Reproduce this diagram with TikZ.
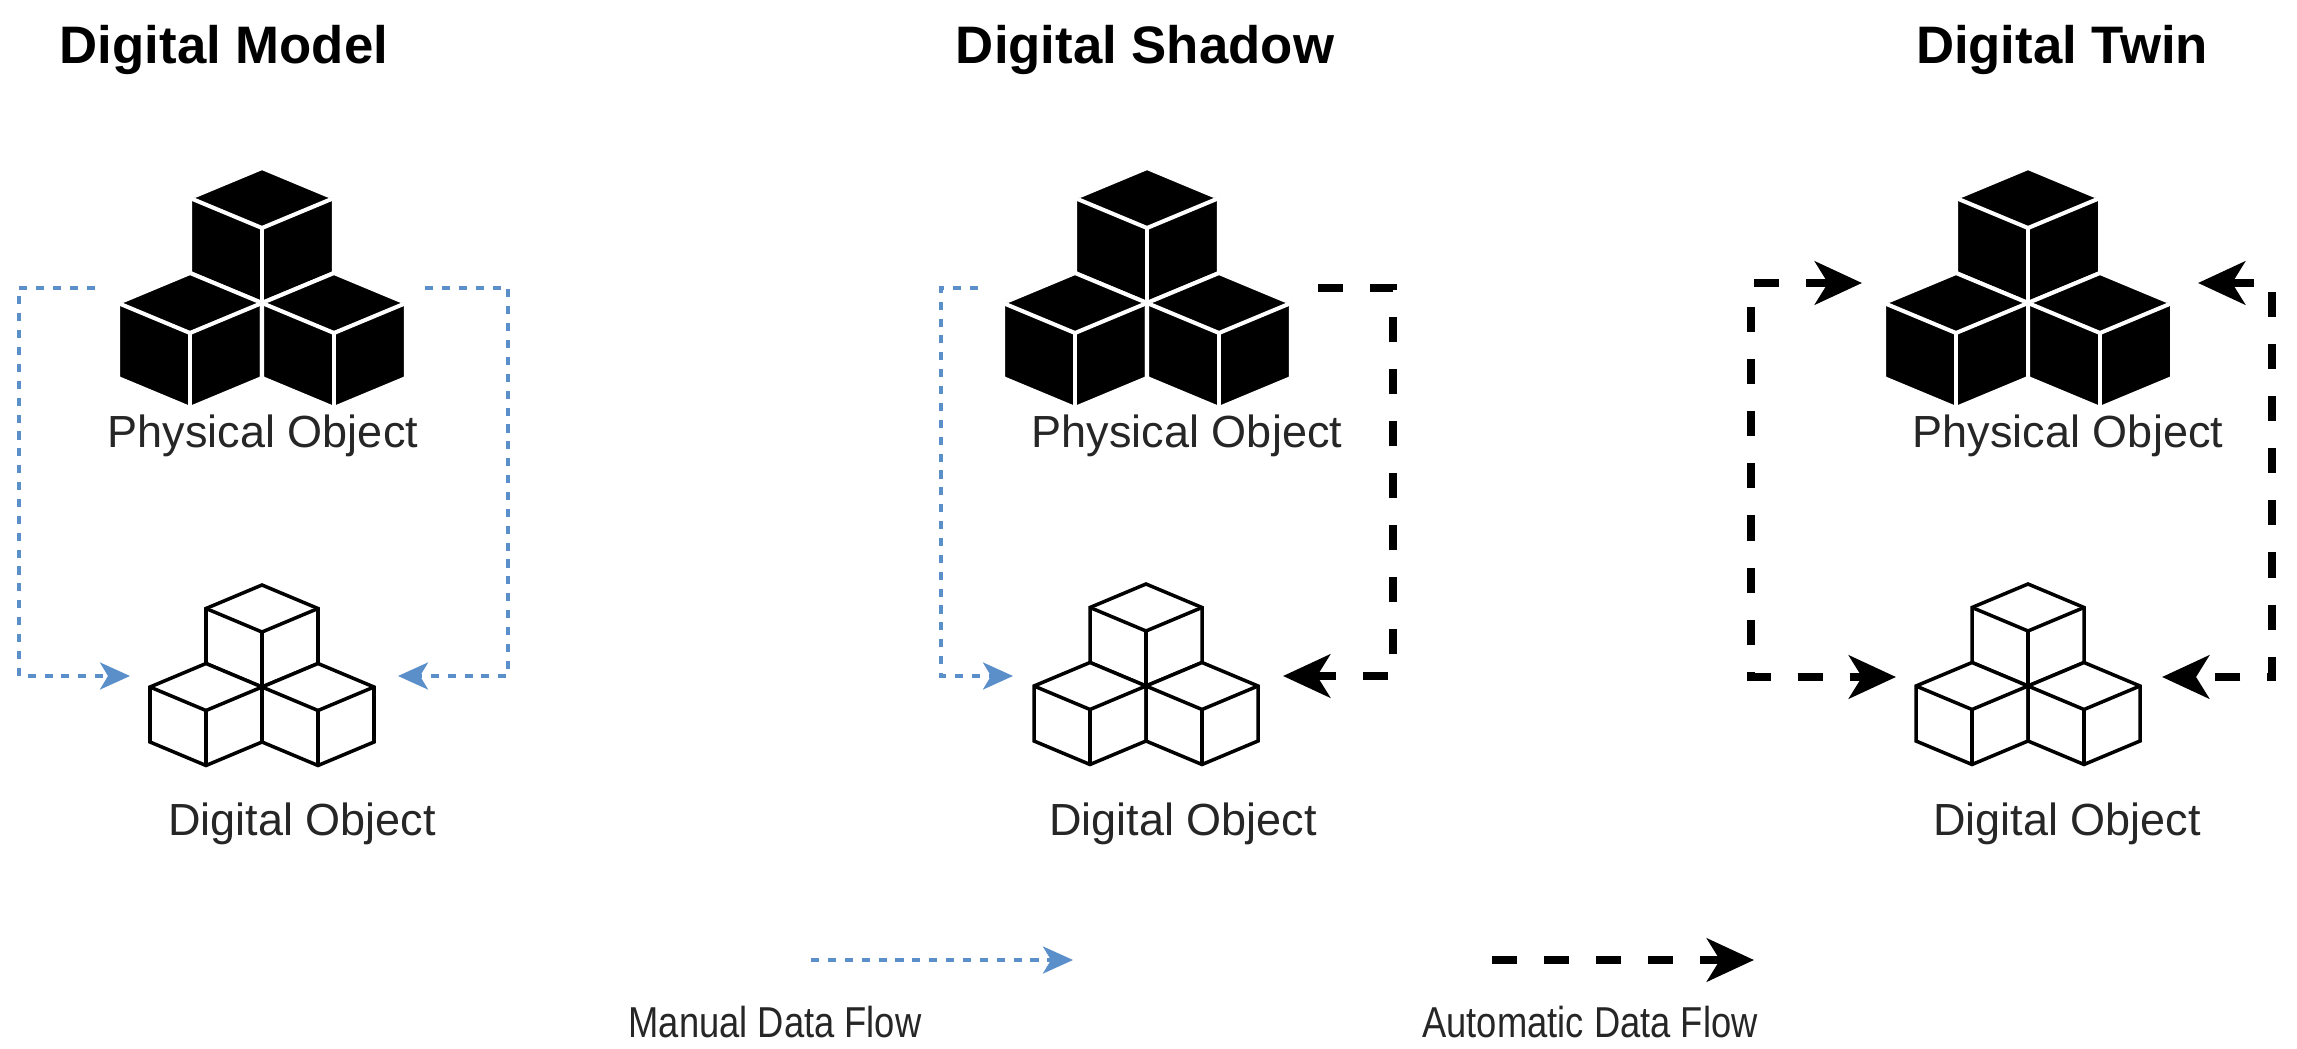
\documentclass[tikz,border=0pt]{standalone}
\usepackage{fontspec}
\setmainfont{Liberation Sans}
\newfontfamily\narrowfont{Liberation Sans}[FakeStretch=0.84]
\usetikzlibrary{arrows.meta}
\definecolor{manblue}{HTML}{5B8FC9}
\tikzset{
  x=0.01cm, y=-0.01cm,
  lbl/.style={font=\fontsize{12.8}{15}\selectfont, text=black!85, inner sep=0pt},
  leg/.style={font=\narrowfont\fontsize{12.3}{14}\selectfont, text=black!85, inner sep=0pt},
  ttl/.style={font=\fontsize{15}{18}\selectfont\bfseries, inner sep=0pt},
  manual/.style={draw=manblue, line width=1pt, dash pattern=on 2.3pt off 2.5pt,
     -{Stealth[length=0.3cm,width=0.27cm,inset=0.08cm]}},
  auto/.style={draw=black, line width=2.3pt, dash pattern=on 0.25cm off 0.27cm,
     -{Stealth[length=0.47cm,width=0.43cm,inset=0.13cm]}},
  autoboth/.style={auto, {Stealth[length=0.47cm,width=0.43cm,inset=0.13cm]}-{Stealth[length=0.47cm,width=0.43cm,inset=0.13cm]}},
  blackcl/.style={fill=black, draw=white, line width=1.15pt, line join=miter},
  whitecl/.style={fill=white, draw=black, line width=1pt, line join=miter},
}
% #1 style, #2 x, #3 y, #4 a, #5 b, #6 h
\newcommand\mycube[6]{%
  \filldraw[#1] (#2,#3) -- ++(#4,#5) -- ++(0,#6) -- ++(-#4,#5) -- ++(-#4,-#5) -- ++(0,-#6) -- cycle;
  \draw[#1] (#2,#3) ++(-#4,#5) -- ++(#4,#5) -- ++(#4,-#5);
  \draw[#1] (#2,#3) ++(0,#5) ++(0,#5) -- ++(0,#6);
}
\newcommand\mycluster[6]{%
  \mycube{#1}{#2}{#3}{#4}{#5}{#6}
  \mycube{#1}{#2-#4}{#3+#5+#6}{#4}{#5}{#6}
  \mycube{#1}{#2+#4}{#3+#5+#6}{#4}{#5}{#6}
}
\begin{document}
\begin{tikzpicture}
\useasboundingbox (0,0) rectangle (2297,1049);
% titles
\node[ttl] (t1) at (224,50) {Digital Model};
\node[ttl] (t2) at (1145,50) {Digital Shadow};
\node[ttl] (t3) at (2062,50) {Digital Twin};
% clusters
\mycluster{blackcl}{262}{168}{72}{30}{75}
\mycluster{whitecl}{262}{585}{56}{23.5}{55}
\mycluster{blackcl}{1147}{168}{72}{30}{75}
\mycluster{whitecl}{1146}{584}{56}{23.5}{55}
\mycluster{blackcl}{2028}{168}{72}{30}{75}
\mycluster{whitecl}{2028}{584}{56}{23.5}{55}
% labels
\node[lbl] (p1) at (263,436) {Physical Object};
\node[lbl] (d1) at (302,824) {Digital Object};
\node[lbl] (p2) at (1187,436) {Physical Object};
\node[lbl] (d2) at (1183,824) {Digital Object};
\node[lbl] (p3) at (2068,436) {Physical Object};
\node[lbl] (d3) at (2067,824) {Digital Object};
% model connectors
\coordinate (m1s) at (95,288); \coordinate (m1a) at (19,288); \coordinate (m1b) at (19,676); \coordinate (m1e) at (130,676);
\coordinate (m2s) at (425,288); \coordinate (m2a) at (508,288); \coordinate (m2b) at (508,676); \coordinate (m2e) at (398,676);
\draw[manual] (m1s) -- (m1a) -- (m1b) -- (m1e);
\draw[manual] (m2s) -- (m2a) -- (m2b) -- (m2e);
% shadow connectors
\coordinate (s1s) at (978,288); \coordinate (s1a) at (941,288); \coordinate (s1b) at (941,676); \coordinate (s1e) at (1013,676);
\coordinate (s2s) at (1318,288); \coordinate (s2a) at (1393,288); \coordinate (s2b) at (1393,676); \coordinate (s2e) at (1283,676);
\draw[manual] (s1s) -- (s1a) -- (s1b) -- (s1e);
\draw[auto] (s2s) -- (s2a) -- (s2b) -- (s2e);
% twin connectors
\coordinate (w1s) at (1862,283); \coordinate (w1a) at (1751,283); \coordinate (w1b) at (1751,677); \coordinate (w1e) at (1896,677);
\coordinate (w2s) at (2198,283); \coordinate (w2a) at (2272,283); \coordinate (w2b) at (2272,677); \coordinate (w2e) at (2162,677);
\draw[autoboth] (w1s) -- (w1a) -- (w1b) -- (w1e);
\draw[autoboth] (w2s) -- (w2a) -- (w2b) -- (w2e);
% legend
\coordinate (l1s) at (811,960); \coordinate (l1e) at (1073,960);
\coordinate (l2s) at (1492,960); \coordinate (l2e) at (1754,960);
\draw[manual] (l1s) -- (l1e);
\draw[auto] (l2s) -- (l2e);
\node[leg] (lt1) at (775,1022) {Manual Data Flow};
\node[leg] (lt2) at (1590,1022) {Automatic Data Flow};
\end{tikzpicture}
\end{document}
